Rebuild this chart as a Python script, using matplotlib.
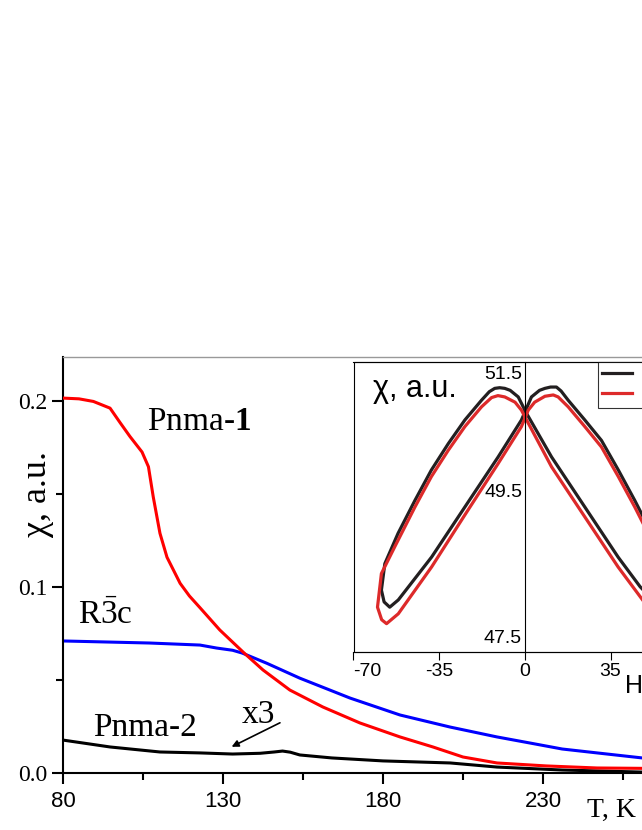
import matplotlib
matplotlib.use("Agg")
import matplotlib.pyplot as plt
from matplotlib.patches import Rectangle

plt.rcParams['mathtext.fontset'] = 'custom'
plt.rcParams['mathtext.rm'] = 'Liberation Serif'
plt.rcParams['mathtext.it'] = 'Liberation Serif:italic'
plt.rcParams['mathtext.bf'] = 'Liberation Serif:bold'

SERIF = ['Liberation Serif', 'DejaVu Serif']
SANS = ['Liberation Sans', 'DejaVu Sans']

# ---------------- main data: chi(T) ----------------
T_red = [80, 85, 89.5, 94.7, 97.8, 100.9, 104.7, 106.7, 108.2, 110.3, 112.5, 116.6,
         119.5, 122.8, 129, 136.3, 142.5, 150.9, 161.2, 172.8, 185.3, 195.6, 205, 215.6,
         231, 246.9, 261, 270, 280]
chi_red = [0.2016, 0.2012, 0.1998, 0.1962, 0.1885, 0.181, 0.1726, 0.1647, 0.1485, 0.1289,
           0.116, 0.102, 0.0952, 0.0889, 0.0769, 0.065, 0.0554, 0.0446, 0.0355, 0.0269,
           0.0194, 0.014, 0.0086, 0.0054, 0.0038, 0.0027, 0.0025, 0.0023, 0.0022]

T_blue = [80, 107, 122.8, 128, 133, 136, 143.7, 154, 163.4, 169.7, 185.3, 201, 215.6,
          226, 236, 246.9, 261, 280]
chi_blue = [0.071, 0.0699, 0.0688, 0.0672, 0.066, 0.0645, 0.059, 0.051, 0.0446, 0.0403,
            0.0312, 0.0247, 0.0194, 0.0161, 0.0129, 0.0108, 0.0081, 0.006]

T_black = [80, 94.7, 110.3, 122.8, 133, 141.6, 146, 148.6, 151, 154, 164, 180, 201,
           215.6, 236, 261, 280]
chi_black = [0.0177, 0.014, 0.0113, 0.0108, 0.0102, 0.0106, 0.0113, 0.0118, 0.0112,
             0.0097, 0.0081, 0.0065, 0.0054, 0.0032, 0.0016, 0.0005, 0.0003]

x_major = [80, 130, 180, 230]
x_major_labels = ['80', '130', '180', '230']
x_minor = [105, 155, 205, 255]
y_major = [0.0, 0.1, 0.2]
y_major_labels = ['0.0', '0.1', '0.2']
y_minor = [0.05, 0.15]

# ---------------- inset data: chi(H) loops ----------------
H_black = [55.2, 47.1, 38.1, 24.5, 10.9, 0.4, -2.7, -6.0, -8.2, -10.3, -12.3, -14.5,
           -17.7, -24.5, -31.3, -38.2, -44.9, -51.8, -57.2, -58.6, -57.5, -55.2,
           -51.7, -38.1, -24.5, -10.9, -1.4, 2.7, 6.0, 8.2, 10.5, 12.9, 14.8, 17.7, 24.5,
           31.3, 38.2, 44.9, 51.8, 57.2, 58.6, 57.5, 55.2]
chi_black_H = [47.97, 48.28, 48.73, 49.49, 50.25, 50.93, 51.16, 51.26, 51.29, 51.30,
               51.29, 51.24, 51.11, 50.81, 50.45, 50.05, 49.59, 49.09, 48.63, 48.23,
               48.05, 47.97,
               48.08, 48.73, 49.49, 50.25, 50.81, 51.16, 51.26, 51.29, 51.31, 51.31,
               51.25, 51.11, 50.81, 50.5, 50.05, 49.59, 49.09, 48.63, 48.23, 48.05, 47.97]

H_red = [56.5, 51.7, 47.1, 38.1, 24.5, 10.9, 0.0, -1.4, -4.0, -8.2, -11.0, -13.6, -17.7,
         -24.5, -31.3, -38.2, -44.9, -53.1, -58.6, -60.2, -58.5, -56.5,
         -51.7, -38.1, -24.5, -10.9, -1.4, 1.4, 4.0, 8.2, 11.6, 13.6, 17.7, 24.5, 31.3,
         38.2, 44.9, 53.1, 58.6, 60.2, 58.5, 56.5]
chi_red_H = [47.72, 47.9, 48.13, 48.58, 49.34, 50.1, 50.86, 50.96, 51.08, 51.16, 51.18,
             51.15, 51.01, 50.71, 50.35, 49.95, 49.49, 48.89, 48.48, 47.97, 47.78, 47.72,
             47.87, 48.58, 49.37, 50.15, 50.71, 50.96, 51.08, 51.17, 51.19, 51.16, 51.01,
             50.71, 50.4, 49.95, 49.49, 48.89, 48.48, 47.97, 47.78, 47.72]

hx_ticks = [-70, -35, 0, 35]
hx_labels = ['-70', '-35', '0', '35']
hy_values = [47.5, 49.5, 51.5]
hy_labels = ['47.5', '49.5', '51.5']
legend_labels = ['', '']

# ---------------- figure ----------------
W, H = 642, 830
fig = plt.figure(figsize=(W / 100, H / 100), dpi=100)

ax = fig.add_axes([63 / W, 57 / H, 640 / W, 416 / H])
ax.plot(T_red, chi_red, color='#ff0000', lw=2.2, zorder=3, solid_joinstyle='round')
ax.plot(T_blue, chi_blue, color='#0000ff', lw=2.2, zorder=2, solid_joinstyle='round')
ax.plot(T_black, chi_black, color='black', lw=2.2, zorder=2, solid_joinstyle='round')
ax.set_xlim(80, 280)
ax.set_ylim(0, 0.2237)

ax.set_xticks(x_major, x_major_labels)
ax.set_xticks(x_minor, minor=True)
ax.set_yticks(y_major, y_major_labels)
ax.set_yticks(y_minor, minor=True)
ax.tick_params(which='major', direction='out', length=8, width=1.5)
ax.tick_params(which='minor', direction='out', length=5, width=1.5)
ax.tick_params(axis='x', which='major', pad=5)
ax.tick_params(axis='y', which='major', pad=3)
for lbl in ax.get_xticklabels():
    lbl.set_fontfamily(SANS)
    lbl.set_fontsize(16)
for lbl in ax.get_yticklabels():
    lbl.set_fontfamily(SERIF)
    lbl.set_fontsize(17)
for s in ['left', 'bottom']:
    ax.spines[s].set_linewidth(1.5)
ax.spines['top'].set_color('#999999')
ax.spines['top'].set_linewidth(1.0)
ax.spines['right'].set_visible(False)

fig.text(38 / W, 1 - 494 / H, 'χ, a.u.', rotation=90, ha='center', va='center',
         fontsize=26, family=SERIF)
fig.text(587 / W, 13 / H, 'T, K', ha='left', va='baseline', fontsize=20, family=SERIF)

ax.text(106.25, 0.1844, r'Pnma-$\mathbf{1}$', fontsize=24, family=SERIF,
        ha='left', va='baseline')
ax.text(84.7, 0.0801, r'R$\bar{3}$c', fontsize=24, family=SERIF,
        ha='left', va='baseline')
ax.text(89.4, 0.0200, 'Pnma-2', fontsize=24, family=SERIF, ha='left', va='baseline')
ax.text(135.9, 0.0269, 'x3', fontsize=24, family=SERIF, ha='left', va='baseline')
ax.annotate('', xy=(132.7, 0.0141), xytext=(147.8, 0.0270),
            arrowprops=dict(arrowstyle='-|>', lw=1.2, color='black',
                            mutation_scale=10, shrinkA=0, shrinkB=0))

# ---------------- inset ----------------
iax = fig.add_axes([353.5 / W, 178 / H, 342.7 / W, 290 / H])
iax.set_facecolor('white')
l1, = iax.plot(H_black, chi_black_H, color='#231f20', lw=2.3, solid_joinstyle='round')
l2, = iax.plot(H_red, chi_red_H, color='#dd2a2a', lw=2.3, solid_joinstyle='round')
iax.set_xlim(-70, 70)
iax.set_ylim(47.29, 51.69)

iax.spines['left'].set_position(('data', 0))
for s in iax.spines.values():
    s.set_linewidth(0.8)
iax.add_patch(Rectangle((0, 0), 1, 1, transform=iax.transAxes, fill=False,
                        lw=0.8, edgecolor='black', clip_on=False, zorder=5))

iax.set_xticks(hx_ticks, hx_labels)
iax.tick_params(axis='x', direction='out', length=6, width=0.8, pad=2, labelsize=14)
for lbl in iax.get_xticklabels():
    lbl.set_fontfamily(SANS)
iax.get_xticklabels()[0].set_horizontalalignment('left')

iax.set_yticks(hy_values)
iax.set_yticks([hy_values[1]], minor=True)
iax.tick_params(axis='y', which='major', length=0, labelleft=False)
iax.tick_params(axis='y', which='minor', direction='inout', length=25, width=0.8)

for val, lab in zip(hy_values, hy_labels):
    dy = 10 if lab == '49.5' else 0
    iax.annotate(lab, xy=(0, val), xytext=(-2, dy), textcoords='offset points',
                 ha='right', va='center', fontsize=14, family=SANS)

iax.text(0.057, 0.879, 'χ, a.u.', transform=iax.transAxes, fontsize=22,
         family=SANS, ha='left', va='baseline')
fig.text(625 / W, (H - 693) / H, 'H', fontsize=18, family=SANS,
         ha='left', va='baseline')

leg = iax.legend([l1, l2], legend_labels, loc='upper left',
                 bbox_to_anchor=((597.7 - 353.5) / 342.7, 1.0),
                 handlelength=1.55, borderpad=0.2, borderaxespad=0,
                 labelspacing=0.15, handletextpad=0.5, fancybox=False,
                 frameon=True, prop={'family': SANS, 'size': 14})
leg.get_frame().set_edgecolor('black')
leg.get_frame().set_linewidth(0.8)
leg.set_zorder(10)

fig.savefig('out.png', dpi=100)
